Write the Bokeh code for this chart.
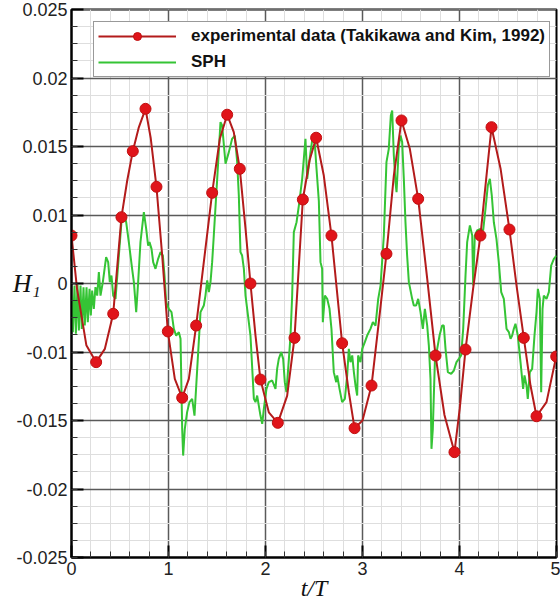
import numpy as np
from bokeh.plotting import figure
from bokeh.models import Legend, LegendItem, FixedTicker
from bokeh.embed import file_html
from bokeh.resources import INLINE

# ---------------- data ----------------
# experimental data markers (t/T, H)
exp_t = [0.000, 0.254, 0.430, 0.515, 0.632, 0.763, 0.876, 0.993, 1.141, 1.285,
         1.450, 1.605, 1.735, 1.845, 1.948, 2.127, 2.299, 2.385, 2.522, 2.680,
         2.790, 2.918, 3.093, 3.247, 3.402, 3.574, 3.753, 3.948, 4.062, 4.216,
         4.330, 4.515, 4.663, 4.794, 4.997]
exp_h_e3 = [3.50, -5.74, -2.21, 4.84, 9.66, 12.75, 7.06, -3.50, -8.34, -3.07,
            6.62, 12.32, 8.37, 0.00, -7.01, -10.17, -3.97, 6.13, 10.64, 3.50,
            -4.36, -10.56, -7.45, 2.17, 11.90, 6.18, -5.26, -12.31, -4.82, 3.50,
            11.41, 3.94, -3.97, -9.69, -5.33]

# experimental smooth curve (markers plus in-between readings)
exp_curve_t = [0.000, 0.057, 0.153, 0.254, 0.344, 0.430, 0.515, 0.574, 0.632, 0.694,
               0.763, 0.817, 0.876, 0.935, 0.993, 1.065, 1.141, 1.210, 1.285, 1.364,
               1.450, 1.529, 1.605, 1.673, 1.735, 1.794, 1.845, 1.897, 1.948, 2.034,
               2.127, 2.223, 2.299, 2.385, 2.454, 2.522, 2.601, 2.680, 2.790, 2.859,
               2.918, 3.000, 3.093, 3.168, 3.247, 3.323, 3.402, 3.488, 3.574, 3.667,
               3.753, 3.845, 3.948, 4.003, 4.062, 4.140, 4.216, 4.275, 4.330, 4.423,
               4.515, 4.588, 4.663, 4.732, 4.794, 4.897, 4.997]
exp_curve_h_e3 = [3.50, -0.39, -4.50, -5.74, -4.77, -2.21, 4.84, 7.50, 9.66, 11.40,
                  12.75, 10.60, 7.06, 2.04, -3.50, -6.96, -8.34, -6.96, -3.07, 1.56,
                  6.62, 10.56, 12.32, 11.05, 8.37, 4.00, 0.00, -3.80, -7.01, -9.40,
                  -10.17, -8.20, -3.97, 6.13, 8.98, 10.64, 7.88, 3.50, -4.36, -7.93,
                  -10.56, -10.00, -7.45, -2.82, 2.17, 7.88, 11.90, 9.83, 6.18, 0.36,
                  -5.26, -9.60, -12.31, -9.10, -4.82, -0.40, 3.50, 7.64, 11.41, 8.40,
                  3.94, -0.15, -3.97, -7.45, -9.69, -8.66, -5.33]

# SPH result
sph_t = [0.000, 0.014, 0.031, 0.045, 0.062, 0.076, 0.093, 0.106, 0.124, 0.137,
         0.155, 0.168, 0.186, 0.199, 0.213, 0.230, 0.247, 0.265, 0.282, 0.299,
         0.323, 0.357, 0.378, 0.395, 0.412, 0.430, 0.454, 0.488, 0.515, 0.540,
         0.564, 0.591, 0.625, 0.643, 0.667, 0.687, 0.711, 0.746, 0.770, 0.790,
         0.804, 0.825, 0.842, 0.866, 0.893, 0.918, 0.942, 0.959, 0.976, 1.003,
         1.031, 1.055, 1.079, 1.107, 1.124, 1.141, 1.151, 1.168, 1.192, 1.216,
         1.244, 1.268, 1.296, 1.330, 1.364, 1.381, 1.399, 1.416, 1.433, 1.450,
         1.467, 1.502, 1.536, 1.553, 1.588, 1.622, 1.656, 1.684, 1.708, 1.725,
         1.742, 1.759, 1.777, 1.794, 1.811, 1.845, 1.880, 1.897, 1.914, 1.931,
         1.948, 1.966, 1.983, 2.010, 2.034, 2.069, 2.103, 2.120, 2.137, 2.162,
         2.182, 2.199, 2.216, 2.241, 2.258, 2.275, 2.292, 2.320, 2.344, 2.378,
         2.412, 2.430, 2.464, 2.488, 2.505, 2.526, 2.550, 2.567, 2.584, 2.591,
         2.612, 2.636, 2.660, 2.680, 2.704, 2.729, 2.739, 2.763, 2.790, 2.818,
         2.842, 2.859, 2.876, 2.894, 2.911, 2.928, 2.945, 2.955, 2.979, 2.997,
         3.024, 3.048, 3.082, 3.107, 3.134, 3.162, 3.186, 3.220, 3.247, 3.271,
         3.292, 3.306, 3.323, 3.340, 3.351, 3.375, 3.392, 3.409, 3.426, 3.443,
         3.460, 3.478, 3.512, 3.529, 3.553, 3.574, 3.598, 3.622, 3.643, 3.667,
         3.684, 3.701, 3.711, 3.725, 3.746, 3.770, 3.794, 3.821, 3.838, 3.856,
         3.880, 3.914, 3.942, 3.969, 3.993, 4.017, 4.038, 4.062, 4.079, 4.107,
         4.131, 4.141, 4.158, 4.182, 4.216, 4.244, 4.268, 4.292, 4.313, 4.333,
         4.354, 4.381, 4.405, 4.430, 4.457, 4.485, 4.509, 4.526, 4.543, 4.560,
         4.577, 4.601, 4.629, 4.656, 4.670, 4.691, 4.704, 4.725, 4.749, 4.773,
         4.794, 4.808, 4.828, 4.842, 4.856, 4.869, 4.897, 4.921, 4.945, 4.973,
         5.000]
sph_h_e3 = [-0.88, -3.55, -0.15, -3.67, -0.10, -3.43, -0.15, -3.31, -0.27, -3.07,
            -0.27, -2.82, -0.39, -2.34, -0.51, -1.85, -0.27, -0.88, 0.83, -0.88,
            0.10, 1.92, 1.56, 0.10, 0.58, -0.88, -1.12, 2.04, 4.47, 5.09,
            4.47, 3.02, 1.07, 0.10, -2.09, 0.10, 3.02, 5.21, 3.99, 2.77,
            3.02, 2.53, 1.56, 1.07, 1.80, 2.29, 2.04, 0.58, -1.36, -1.85,
            -2.09, -3.31, -3.80, -3.55, -4.04, -10.61, -12.56, -10.61, -9.39, -8.66,
            -8.42, -9.64, -6.23, -2.09, -1.61, -0.88, 0.22, -0.63, 0.10, 1.56,
            3.50, 7.64, 11.78, 11.53, 8.74, 9.59, 10.56, 10.80, 8.86, 6.42,
            2.29, 2.04, 1.07, -0.88, -1.85, -3.80, -8.42, -8.66, -8.18, -8.91,
            -9.64, -10.24, -9.15, -7.69, -7.20, -7.08, -7.69, -6.23, -5.50, -5.01,
            -5.50, -7.20, -7.93, -5.50, -3.80, -0.88, 3.75, 4.47, 5.69, 7.64,
            10.56, 7.64, 9.59, 10.80, 10.56, 8.37, 6.00, 1.56, 1.07, -2.82,
            -0.88, -1.12, -1.85, -3.31, -6.47, -7.20, -6.71, -7.69, -8.66, -8.42,
            -6.71, -4.77, -5.74, -5.25, -6.47, -7.45, -8.18, -5.25, -5.74, -4.77,
            -4.28, -3.80, -3.31, -2.82, -3.07, -1.12, -0.15, 3.50, 8.86, 9.83,
            12.26, 12.63, 9.34, 7.40, 6.67, 10.07, 10.80, 10.32, 7.64, 4.47,
            2.04, 0.10, -1.12, -1.61, -1.61, -1.12, -2.09, -3.31, -1.85, -3.07,
            -4.53, -6.96, -12.07, -10.61, -5.74, -4.77, -3.80, -3.07, -3.07, -4.77,
            -6.47, -6.59, -6.35, -5.74, -5.50, -5.25, -3.31, 0.58, 3.02, 4.24,
            3.50, -0.15, 3.50, 3.87, 3.99, 3.87, 5.45, 7.16, 7.64, 6.42,
            4.47, 3.26, 1.56, -0.63, -1.12, -3.31, -3.55, -4.04, -3.80, -3.31,
            -2.94, -3.80, -5.74, -7.69, -6.71, -7.45, -8.42, -6.47, -6.23, -3.80,
            -2.09, -0.39, -1.12, -7.93, -1.85, -0.88, -1.12, -0.63, 1.31, 1.80,
            2.04]

x_ticks = [0, 1, 2, 3, 4, 5]
y_ticks = [-0.02, -0.015, -0.01, -0.005, 0.0, 0.005, 0.01, 0.015, 0.02]
y_tick_labels = ["-0.025", "-0.02", "-0.015", "-0.01", "0", "0.01", "0.015", "0.02", "0.025"]
x_title = "t/T"
y_title = "H\u2081"
legend_labels = ["experimental data (Takikawa and Kim, 1992)", "SPH"]

exp_h = (np.array(exp_h_e3) * 1e-3).tolist()
exp_curve_h = (np.array(exp_curve_h_e3) * 1e-3).tolist()
sph_h = (np.array(sph_h_e3) * 1e-3).tolist()

RED_LINE = "#b31b1b"
RED_FILL = "#e0141a"
GREEN = "#35c435"

p = figure(width=560, height=608, x_range=(0, 5), y_range=(-0.02, 0.02),
           output_backend="svg", toolbar_location=None,
           min_border_left=71, min_border_right=4, min_border_top=9, min_border_bottom=51,
           background_fill_color="white", border_fill_color="white")

# ticks
p.xaxis.ticker = FixedTicker(ticks=x_ticks, minor_ticks=list(np.arange(0, 5.001, 0.2)))
p.yaxis.ticker = FixedTicker(ticks=y_ticks, minor_ticks=list(np.arange(-0.02, 0.02001, 0.00125)))
p.yaxis.major_label_overrides = {t: l for t, l in zip(y_ticks, y_tick_labels)}

for ax in (p.xaxis, p.yaxis):
    ax.axis_line_color = "black"
    ax.axis_line_width = 2
    ax.major_tick_in = 12
    ax.major_tick_out = 0
    ax.minor_tick_in = 6
    ax.minor_tick_out = 0
    ax.major_tick_line_color = "black"
    ax.major_tick_line_width = 2
    ax.minor_tick_line_color = "#333333"
    ax.major_label_text_font = "Liberation Sans"
    ax.major_label_text_font_size = "18px"
    ax.major_label_text_color = "#222222"
    ax.major_label_standoff = 4
    ax.axis_label_text_font = "Liberation Serif"
    ax.axis_label_text_font_style = "italic"
    ax.axis_label_text_color = "#111111"

p.xaxis.axis_label = x_title
p.xaxis.axis_label_text_font_size = "24px"
p.xaxis.axis_label_standoff = -3

p.yaxis.axis_label = y_title
p.yaxis.axis_label_text_font_size = "26px"
p.yaxis.axis_label_orientation = "horizontal"
p.yaxis.axis_label_standoff = -27

p.grid.grid_line_color = "#5a5a5a"
p.grid.grid_line_width = 1.5
p.grid.minor_grid_line_color = "#dedede"
p.grid.minor_grid_line_width = 1

p.outline_line_color = "black"
p.outline_line_width = 2
p.outline_line_alpha = 1

# series
g = p.line(sph_t, sph_h, color=GREEN, line_width=2)
r_line = p.line(exp_curve_t, exp_curve_h, color=RED_LINE, line_width=2)
r_pts = p.scatter(exp_t, exp_h, size=11, fill_color=RED_FILL, line_color="#c01010", line_width=1)

legend = Legend(items=[
    LegendItem(label=legend_labels[0], renderers=[r_line, r_pts]),
    LegendItem(label=legend_labels[1], renderers=[g]),
], location=(22, 480), padding=4, spacing=6, margin=0,
    glyph_width=78, glyph_height=20, label_height=20, label_standoff=15,
    label_text_font="Liberation Sans", label_text_font_style="bold",
    label_text_font_size="17px", label_text_color="#111111",
    border_line_color="#333333", border_line_width=1,
    background_fill_color="white", background_fill_alpha=1)
p.add_layout(legend)

open("out.html", "w").write(file_html(p, INLINE))
